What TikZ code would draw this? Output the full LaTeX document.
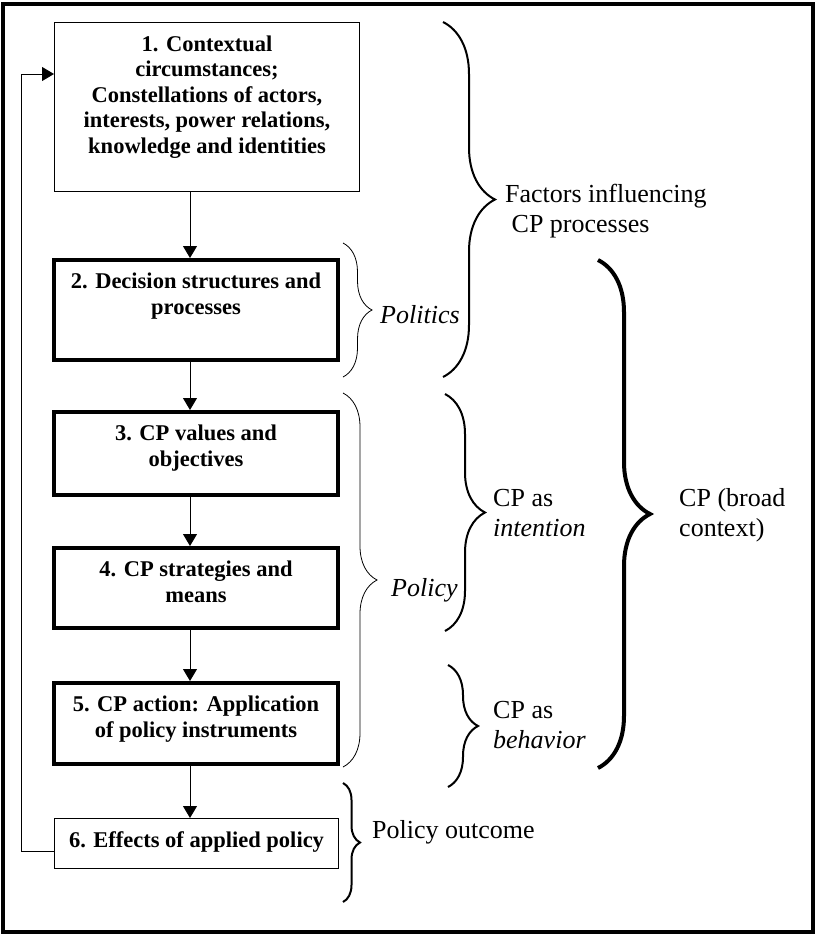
\documentclass[tikz,border=0pt]{standalone}
\usepackage{fontspec}
\setmainfont{Liberation Serif}
\usetikzlibrary{positioning, arrows.meta, decorations.pathreplacing}

\begin{document}
\begin{tikzpicture}[
        x=1pt, y=-1pt,
        >={Triangle[width=14pt,length=12pt]},
        stage/.style={draw, line width=4.3pt, align=center, anchor=north, inner xsep=6pt, inner ysep=13pt, minimum width=284pt, font=\bfseries\fontsize{22.5}{25.5}\selectfont},
        thinstage/.style={stage, line width=1pt},
        flow/.style={->, line width=1pt},
        brace/.style={decorate, decoration={brace, amplitude=#1}},
        note/.style={inner sep=0pt, align=left, font=\fontsize{26}{30}\selectfont},
        slanted/.style={note, font=\itshape\fontsize{26}{30}\selectfont},
    ]
    \useasboundingbox (0,0) rectangle (815,935);

        % Draw the frame
        \draw[line width=4pt] (2.5,4) rectangle (813,932);

        % Draw the stages of the process
        \node[thinstage, minimum width=305pt, text depth=25.8pt] (b1) at (207,22) {1. Contextual\\circumstances;\\Constellations of actors,\\interests, power relations,\\knowledge and identities};
        \node[stage, text depth=33pt] (b2) at (196,258) {2. Decision structures and\\processes};
        \node[stage, text depth=16pt] (b3) at (196,410) {3. CP values and\\objectives};
        \node[stage, text depth=13pt] (b4) at (196,546) {4. CP strategies and\\means};
        \node[stage, text depth=14pt] (b5) at (196,681) {5. CP action: Application\\of policy instruments};
        \node[thinstage, text depth=8.5pt] (b6) at (196.5,818) {6. Effects of applied policy};

        % Connect every stage with the next one
        \coordinate (spine) at (190,0);
        \foreach \a/\b in {b1/b2, b2/b3, b3/b4, b4/b5, b5/b6}
            \draw[flow] (spine |- \a.south) -- (spine |- \b.north);

        % Feedback from the effects back to the context
        \coordinate (back) at (21,74);
        \draw[flow] ([yshift=-8pt]b6.west) -| (back) -- (back -| b1.west);

        % Draw the braces
        \draw[brace=52, line width=2pt] (443,22) -- (443,377);
        \draw[brace=29, line width=0.8pt] (343,243) -- (343,377);
        \draw[brace=34, line width=0.8pt] (343,393) -- (343,767);
        \draw[brace=40, line width=2pt] (445,394) -- (445,631);
        \draw[brace=30, line width=2pt] (448,665) -- (448,787);
        \draw[brace=52, line width=4pt] (598,260) -- (598,768);
        \draw[brace=17, line width=2pt] (343,783) -- (343,902);

        % Labels of the braces
        \node[note, anchor=north west] (factors) at (505,184) {Factors influencing\\\ CP processes};
        \node[slanted, anchor=base west] (politics) at (380,323) {Politics};
        \node[slanted, anchor=base west] (policy) at (391,596) {Policy};
        \node[note, anchor=north west] (intention) at (493,489) {CP as\\\textit{intention}};
        \node[note, anchor=north west] (behavior) at (493,701) {CP as\\\textit{behavior}};
        \node[note, anchor=north west] (broad) at (679,488) {CP (broad\\context)};
        \node[note, anchor=base west] (outcome) at (372,838) {Policy outcome};
    \end{tikzpicture}
\end{document}
